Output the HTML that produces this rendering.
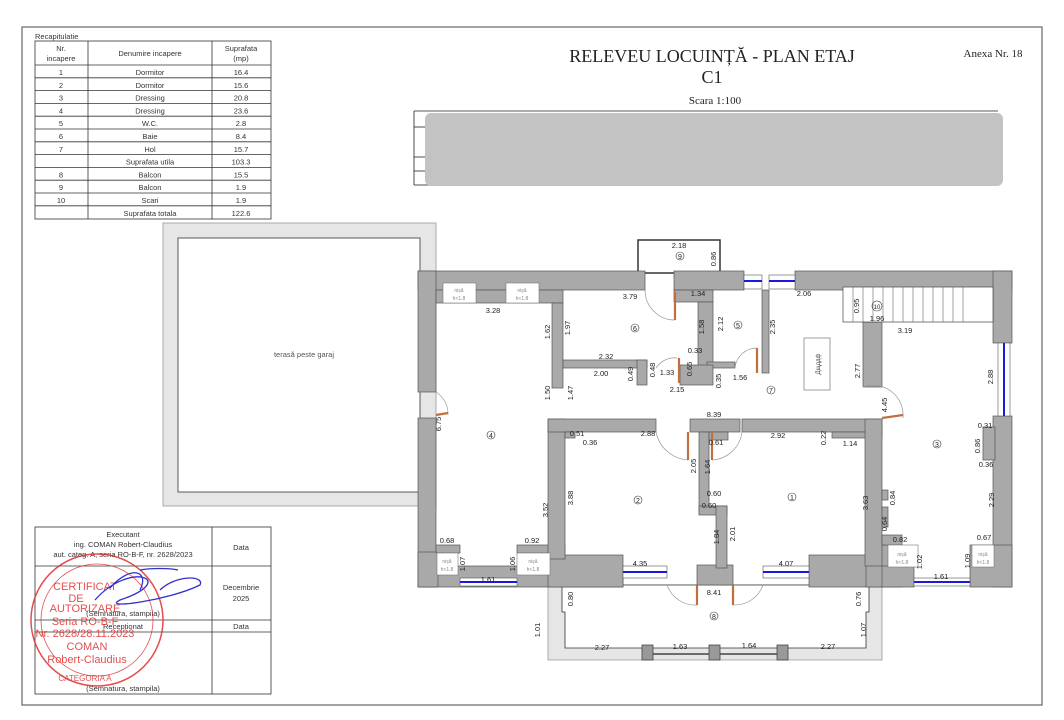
<!DOCTYPE html>
<html><head><meta charset="utf-8"><style>
body{margin:0;background:#fff;width:1064px;height:720px;overflow:hidden;font-family:"Liberation Sans",sans-serif}
svg{display:block}
</style></head><body>
<svg width="1064" height="720" viewBox="0 0 1064 720" xmlns="http://www.w3.org/2000/svg" font-family="Liberation Sans, sans-serif">
<rect x="0" y="0" width="1064" height="720" fill="#fff"/>
<rect x="22" y="27" width="1020" height="678" fill="none" stroke="#666" stroke-width="1.2"/>

<!-- Recap table -->
<text x="35" y="39" font-size="7.5" fill="#333">Recapitulatie</text>
<g stroke="#333" stroke-width="0.8" fill="none">
<rect x="35" y="41" width="236" height="178"/>
<line x1="88" y1="41" x2="88" y2="219"/><line x1="212" y1="41" x2="212" y2="219"/>
<line x1="35" y1="65" x2="271" y2="65"/>
<line x1="35" y1="77.8" x2="271" y2="77.8"/><line x1="35" y1="90.6" x2="271" y2="90.6"/>
<line x1="35" y1="103.4" x2="271" y2="103.4"/><line x1="35" y1="116.2" x2="271" y2="116.2"/>
<line x1="35" y1="129" x2="271" y2="129"/><line x1="35" y1="141.8" x2="271" y2="141.8"/>
<line x1="35" y1="154.6" x2="271" y2="154.6"/><line x1="35" y1="167.4" x2="271" y2="167.4"/>
<line x1="35" y1="180.2" x2="271" y2="180.2"/><line x1="35" y1="193" x2="271" y2="193"/>
<line x1="35" y1="205.8" x2="271" y2="205.8"/>
</g>
<g font-size="7.5" fill="#333" text-anchor="middle">
<text x="61" y="51">Nr.</text><text x="61" y="61">incapere</text>
<text x="150" y="56">Denumire incapere</text>
<text x="241" y="51">Suprafata</text><text x="241" y="61">(mp)</text>
<text x="61" y="75">1</text><text x="150" y="75">Dormitor</text><text x="241" y="75">16.4</text>
<text x="61" y="87.8">2</text><text x="150" y="87.8">Dormitor</text><text x="241" y="87.8">15.6</text>
<text x="61" y="100.6">3</text><text x="150" y="100.6">Dressing</text><text x="241" y="100.6">20.8</text>
<text x="61" y="113.4">4</text><text x="150" y="113.4">Dressing</text><text x="241" y="113.4">23.6</text>
<text x="61" y="126.2">5</text><text x="150" y="126.2">W.C.</text><text x="241" y="126.2">2.8</text>
<text x="61" y="139">6</text><text x="150" y="139">Baie</text><text x="241" y="139">8.4</text>
<text x="61" y="151.8">7</text><text x="150" y="151.8">Hol</text><text x="241" y="151.8">15.7</text>
<text x="150" y="164.6">Suprafata utila</text><text x="241" y="164.6">103.3</text>
<text x="61" y="177.4">8</text><text x="150" y="177.4">Balcon</text><text x="241" y="177.4">15.5</text>
<text x="61" y="190.2">9</text><text x="150" y="190.2">Balcon</text><text x="241" y="190.2">1.9</text>
<text x="61" y="203">10</text><text x="150" y="203">Scari</text><text x="241" y="203">1.9</text>
<text x="150" y="215.8">Suprafata totala</text><text x="241" y="215.8">122.6</text>
</g>

<!-- Title -->
<g font-family="Liberation Serif, serif" fill="#222" text-anchor="middle">
<text x="712" y="62" font-size="18">RELEVEU LOCUINȚĂ - PLAN ETAJ</text>
<text x="712" y="83" font-size="18">C1</text>
<text x="715" y="104" font-size="11">Scara 1:100</text>
<text x="993" y="57" font-size="11">Anexa Nr. 18</text>
</g>
<g stroke="#222" stroke-width="0.8" fill="none">
<line x1="414" y1="111" x2="998" y2="111"/>
<line x1="414" y1="111" x2="414" y2="185"/>
<line x1="414" y1="127" x2="430" y2="127"/>
<line x1="414" y1="157" x2="430" y2="157"/>
<line x1="414" y1="171" x2="430" y2="171"/>
<line x1="414" y1="185" x2="430" y2="185"/>
</g>
<rect x="425" y="113" width="578" height="73" rx="6" fill="#c3c3c3"/>

<!-- Terrace -->
<rect x="163" y="223" width="273" height="283" fill="#e6e6e6" stroke="#999" stroke-width="0.8"/>
<rect x="178" y="238" width="242" height="254" fill="#fff" stroke="#333" stroke-width="0.8"/>
<text x="304" y="357" font-size="7.5" fill="#555" text-anchor="middle">terasă peste garaj</text>

<!-- Balcony 8 -->
<path d="M548 585 H882 V660 H548 Z" fill="#e6e6e6" stroke="#999" stroke-width="0.8"/>
<path d="M562 585 V612 H565 V648 H866 V612 H869 V585 Z" fill="#fff" stroke="#333" stroke-width="0.8"/>
<line x1="652" y1="654" x2="778" y2="654" stroke="#444" stroke-width="1.5"/>
<g fill="#999" stroke="#444" stroke-width="0.8">
<rect x="642" y="645" width="11" height="15"/><rect x="709" y="645" width="11" height="15"/><rect x="777" y="645" width="11" height="15"/>
</g>

<!-- Balcony 9 -->
<rect x="638" y="240" width="82" height="33" fill="#fff" stroke="#333" stroke-width="1.5"/>

<!-- Main walls -->
<g fill="#a9a9a9" stroke="#555" stroke-width="0.7">
<!-- top wall -->
<rect x="418" y="271" width="227" height="19"/>
<rect x="674" y="271" width="70" height="19"/>
<rect x="795" y="271" width="217" height="19"/>
<!-- left wall -->
<rect x="418" y="271" width="18" height="121"/>
<rect x="418" y="418" width="18" height="169"/>
<!-- right wall -->
<rect x="993" y="271" width="19" height="72"/>
<rect x="993" y="416" width="19" height="171"/>
<rect x="983" y="427" width="12" height="33"/>
<!-- top wall thickening near niches -->
<rect x="436" y="290" width="127" height="13"/>
<!-- bottom wall -->
<rect x="418" y="566" width="205" height="21"/>
<rect x="418" y="552" width="20" height="35"/>
<rect x="436" y="545" width="24" height="8"/>
<rect x="517" y="545" width="48" height="8"/>
<rect x="548" y="555" width="75" height="32"/>
<rect x="697" y="565" width="36" height="20"/>
<rect x="809" y="555" width="75" height="32"/>
<rect x="866" y="545" width="36" height="42"/>
<rect x="882" y="566" width="32" height="21"/>
<rect x="970" y="545" width="42" height="42"/>
<!-- room4 right wall -->
<rect x="552" y="303" width="11" height="85"/>
<rect x="548" y="419" width="17" height="140"/>
<!-- room2 top -->
<rect x="548" y="419" width="108" height="13"/>
<rect x="565" y="432" width="10" height="6"/>
<!-- center -->
<rect x="690" y="419" width="50" height="13"/>
<rect x="699" y="432" width="10" height="81"/>
<rect x="709" y="432" width="19" height="8"/>
<rect x="699" y="506" width="28" height="9"/>
<rect x="716" y="506" width="11" height="62"/>
<!-- room1 top -->
<rect x="742" y="419" width="140" height="13"/>
<rect x="832" y="432" width="50" height="6"/>
<!-- room1 right / room3 left -->
<rect x="865" y="419" width="17" height="147"/>
<rect x="882" y="490" width="6" height="10"/>
<rect x="882" y="507" width="6" height="20"/>
<rect x="882" y="535" width="20" height="10"/>
<!-- room3 left upper -->
<rect x="863" y="322" width="19" height="65"/>
<!-- room6 walls -->
<rect x="563" y="360" width="84" height="8"/>
<rect x="637" y="360" width="10" height="25"/>
<rect x="674" y="290" width="39" height="12"/>
<rect x="698" y="302" width="15" height="65"/>
<rect x="707" y="362" width="28" height="6"/>
<rect x="680" y="365" width="33" height="20"/>
<rect x="762" y="290" width="7" height="83"/>
</g>
<!-- windows -->
<g stroke="#555" stroke-width="0.6" fill="#fff">
<rect x="744" y="275" width="18" height="14"/><rect x="769" y="275" width="26" height="14"/>
<rect x="998" y="343" width="12" height="73"/>
<rect x="460" y="578" width="57" height="8"/>
<rect x="623" y="566" width="44" height="12"/>
<rect x="763" y="566" width="46" height="12"/>
<rect x="914" y="578" width="56" height="8"/>
</g>
<g stroke="#1a1adf" stroke-width="2">
<line x1="744" y1="281" x2="762" y2="281"/><line x1="769" y1="281" x2="795" y2="281"/>
<line x1="1004" y1="343" x2="1004" y2="416"/>
<line x1="460" y1="582" x2="517" y2="582"/>
<line x1="623" y1="572" x2="667" y2="572"/>
<line x1="763" y1="572" x2="809" y2="572"/>
<line x1="914" y1="582" x2="970" y2="582"/>
</g>
<!-- niches -->
<g fill="#fff" stroke="#777" stroke-width="0.6">
<rect x="443" y="283" width="33" height="20"/><rect x="506" y="283" width="33" height="20"/>
<rect x="437" y="553" width="21" height="22"/><rect x="517" y="553" width="33" height="22"/>
<rect x="888" y="545" width="30" height="22"/><rect x="972" y="545" width="22" height="22"/>
</g>
<g font-size="5" fill="#888" text-anchor="middle">
<text x="459" y="292">nișă</text><text x="459" y="300">h&lt;1.8</text>
<text x="522" y="292">nișă</text><text x="522" y="300">h&lt;1.8</text>
<text x="447" y="563">nișă</text><text x="447" y="571">h&lt;1.8</text>
<text x="533" y="563">nișă</text><text x="533" y="571">h&lt;1.8</text>
<text x="902" y="556">nișă</text><text x="902" y="564">h&lt;1.8</text>
<text x="983" y="556">nișă</text><text x="983" y="564">h&lt;1.8</text>
</g>
<!-- stairs -->
<rect x="843" y="287" width="150" height="35" fill="#fff" stroke="#444" stroke-width="0.7"/>
<g stroke="#666" stroke-width="0.6">
<line x1="853" y1="287" x2="853" y2="322"/><line x1="863" y1="287" x2="863" y2="322"/><line x1="873" y1="287" x2="873" y2="322"/><line x1="883" y1="287" x2="883" y2="322"/><line x1="893" y1="287" x2="893" y2="322"/><line x1="903" y1="287" x2="903" y2="322"/><line x1="913" y1="287" x2="913" y2="322"/><line x1="923" y1="287" x2="923" y2="322"/><line x1="933" y1="287" x2="933" y2="322"/><line x1="943" y1="287" x2="943" y2="322"/><line x1="953" y1="287" x2="953" y2="322"/><line x1="963" y1="287" x2="963" y2="322"/>
</g>
<!-- radiator -->
<rect x="804" y="338" width="26" height="52" fill="#fff" stroke="#777" stroke-width="0.7"/>
<text x="820" y="364" font-size="6" fill="#444" text-anchor="middle" transform="rotate(-90 820 364)">Дщддф</text>

<!-- doors -->
<g fill="none" stroke="#999" stroke-width="0.7">
<path d="M645 290 A30 30 0 0 0 675 320"/>
<path d="M436 392 A26 26 0 0 1 448 415"/>
<path d="M656 432 A35 35 0 0 0 688 460"/>
<path d="M742 432 A32 32 0 0 1 712 460"/>
<path d="M667 585 A30 30 0 0 0 697 605"/>
<path d="M763 585 A30 30 0 0 1 733 605"/>
<path d="M863 387 A30 30 0 0 1 903 418"/>
<path d="M656 368 A22 22 0 0 1 677 358"/>
<path d="M735 368 A22 22 0 0 1 757 348"/>
</g>
<g stroke="#c07040" stroke-width="2.2">
<line x1="675" y1="292" x2="675" y2="320"/>
<line x1="688" y1="432" x2="688" y2="460"/>
<line x1="712" y1="432" x2="712" y2="460"/>
<line x1="697" y1="585" x2="697" y2="605"/>
<line x1="733" y1="585" x2="733" y2="605"/>
<line x1="882" y1="418" x2="903" y2="415"/>
<line x1="436" y1="415" x2="448" y2="413"/>
<line x1="679" y1="358" x2="679" y2="383"/>
<line x1="757" y1="348" x2="757" y2="373"/>
</g>

<!-- dimensions -->
<g font-size="7.5" fill="#222" text-anchor="middle">
<text x="679" y="248">2.18</text><text x="630" y="299">3.79</text><text x="493" y="313">3.28</text>
<text x="698" y="296">1.34</text><text x="804" y="296">2.06</text><text x="905" y="333">3.19</text>
<text x="877" y="321">1.96</text><text x="606" y="359">2.32</text><text x="601" y="376">2.00</text>
<text x="667" y="375">1.33</text><text x="695" y="353">0.33</text><text x="677" y="392">2.15</text>
<text x="740" y="380">1.56</text><text x="714" y="417">8.39</text>
<text x="577" y="436">0.51</text><text x="590" y="445">0.36</text><text x="648" y="436">2.88</text>
<text x="716" y="445">0.61</text><text x="778" y="438">2.92</text><text x="850" y="446">1.14</text>
<text x="714" y="496">0.60</text><text x="709" y="508">0.60</text>
<text x="447" y="543">0.68</text><text x="532" y="543">0.92</text>
<text x="488" y="582">1.61</text><text x="640" y="566">4.35</text><text x="786" y="566">4.07</text>
<text x="714" y="595">8.41</text><text x="900" y="542">0.82</text><text x="984" y="540">0.67</text>
<text x="941" y="579">1.61</text><text x="985" y="428">0.31</text><text x="986" y="467">0.36</text>
<text x="602" y="650">2.27</text><text x="680" y="649">1.63</text><text x="749" y="648">1.64</text><text x="828" y="649">2.27</text>
</g>
<g font-size="7.5" fill="#222" text-anchor="middle">
<text transform="translate(716,259) rotate(-90)">0.86</text>
<text transform="translate(550,332) rotate(-90)">1.62</text>
<text transform="translate(570,328) rotate(-90)">1.97</text>
<text transform="translate(704,327) rotate(-90)">1.58</text>
<text transform="translate(723,324) rotate(-90)">2.12</text>
<text transform="translate(775,327) rotate(-90)">2.35</text>
<text transform="translate(859,306) rotate(-90)">0.95</text>
<text transform="translate(633,374) rotate(-90)">0.49</text>
<text transform="translate(655,370) rotate(-90)">0.48</text>
<text transform="translate(692,369) rotate(-90)">0.65</text>
<text transform="translate(721,381) rotate(-90)">0.35</text>
<text transform="translate(550,393) rotate(-90)">1.50</text>
<text transform="translate(573,393) rotate(-90)">1.47</text>
<text transform="translate(860,371) rotate(-90)">2.77</text>
<text transform="translate(887,405) rotate(-90)">4.45</text>
<text transform="translate(993,377) rotate(-90)">2.88</text>
<text transform="translate(441,424) rotate(-90)">6.75</text>
<text transform="translate(826,438) rotate(-90)">0.22</text>
<text transform="translate(980,446) rotate(-90)">0.86</text>
<text transform="translate(696,466) rotate(-90)">2.05</text>
<text transform="translate(710,467) rotate(-90)">1.64</text>
<text transform="translate(548,510) rotate(-90)">3.52</text>
<text transform="translate(573,498) rotate(-90)">3.88</text>
<text transform="translate(868,503) rotate(-90)">3.63</text>
<text transform="translate(895,498) rotate(-90)">0.84</text>
<text transform="translate(887,524) rotate(-90)">0.64</text>
<text transform="translate(994,500) rotate(-90)">2.29</text>
<text transform="translate(719,537) rotate(-90)">1.84</text>
<text transform="translate(735,534) rotate(-90)">2.01</text>
<text transform="translate(465,564) rotate(-90)">1.07</text>
<text transform="translate(515,564) rotate(-90)">1.06</text>
<text transform="translate(922,562) rotate(-90)">1.02</text>
<text transform="translate(970,561) rotate(-90)">1.09</text>
<text transform="translate(573,599) rotate(-90)">0.80</text>
<text transform="translate(861,599) rotate(-90)">0.76</text>
<text transform="translate(540,630) rotate(-90)">1.01</text>
<text transform="translate(866,630) rotate(-90)">1.07</text>
</g>
<!-- room numbers -->
<g font-size="7" fill="#222" text-anchor="middle">
<circle cx="491" cy="435" r="4" fill="none" stroke="#333" stroke-width="0.6"/><text x="491" y="438">4</text>
<circle cx="635" cy="328" r="4" fill="none" stroke="#333" stroke-width="0.6"/><text x="635" y="331">6</text>
<circle cx="738" cy="325" r="4" fill="none" stroke="#333" stroke-width="0.6"/><text x="738" y="328">5</text>
<circle cx="680" cy="256" r="4" fill="none" stroke="#333" stroke-width="0.6"/><text x="680" y="259">9</text>
<circle cx="771" cy="390" r="4" fill="none" stroke="#333" stroke-width="0.6"/><text x="771" y="393">7</text>
<circle cx="877" cy="306" r="5" fill="none" stroke="#333" stroke-width="0.6"/><text x="877" y="309" font-size="6">10</text>
<circle cx="638" cy="500" r="4" fill="none" stroke="#333" stroke-width="0.6"/><text x="638" y="503">2</text>
<circle cx="792" cy="497" r="4" fill="none" stroke="#333" stroke-width="0.6"/><text x="792" y="500">1</text>
<circle cx="937" cy="444" r="4" fill="none" stroke="#333" stroke-width="0.6"/><text x="937" y="447">3</text>
<circle cx="714" cy="616" r="4" fill="none" stroke="#333" stroke-width="0.6"/><text x="714" y="619">8</text>
</g>

<!-- Executant table -->
<g stroke="#333" stroke-width="0.8" fill="none">
<rect x="35" y="527" width="236" height="167"/>
<line x1="212" y1="527" x2="212" y2="694"/>
<line x1="35" y1="566" x2="271" y2="566"/>
<line x1="35" y1="620" x2="271" y2="620"/>
<line x1="35" y1="632" x2="271" y2="632"/>
</g>
<g font-size="7.5" fill="#333" text-anchor="middle">
<text x="123" y="537">Executant</text>
<text x="123" y="547">ing. COMAN Robert-Claudius</text>
<text x="123" y="557">aut. categ. A, seria RO-B-F, nr. 2628/2023</text>
<text x="241" y="550">Data</text>
<text x="241" y="590">Decembrie</text><text x="241" y="601">2025</text>
<text x="123" y="616">(Semnatura, stampila)</text>
<text x="123" y="629">Receptionat</text>
<text x="241" y="629">Data</text>
<text x="123" y="691">(Semnatura, stampila)</text>
</g>
<!-- stamp -->
<g fill="none" stroke="#e03030" stroke-width="1.5" opacity="0.85">
<circle cx="97" cy="620" r="66"/>
<circle cx="97" cy="620" r="56" stroke-width="0.8"/>
</g>
<g font-size="11" fill="#e03030" text-anchor="middle" opacity="0.85">
<text x="85" y="590">CERTIFICAT</text>
<text x="76" y="602">DE</text>
<text x="85" y="612">AUTORIZARE</text>
<text x="85" y="625">Seria RO-B-F</text>
<text x="85" y="637">Nr. 2628/28.11.2023</text>
<text x="87" y="650">COMAN</text>
<text x="87" y="663">Robert-Claudius</text>
<text x="85" y="681" font-size="8">CATEGORIA A</text>
</g>
<path d="M110 588 C130 565 150 570 140 590 M95 600 C130 560 180 580 120 600 C100 610 170 600 200 585 C205 575 175 575 160 590 M140 570 C150 568 170 568 178 570" fill="none" stroke="#3030d0" stroke-width="1.3"/>
</svg>
</body></html>
